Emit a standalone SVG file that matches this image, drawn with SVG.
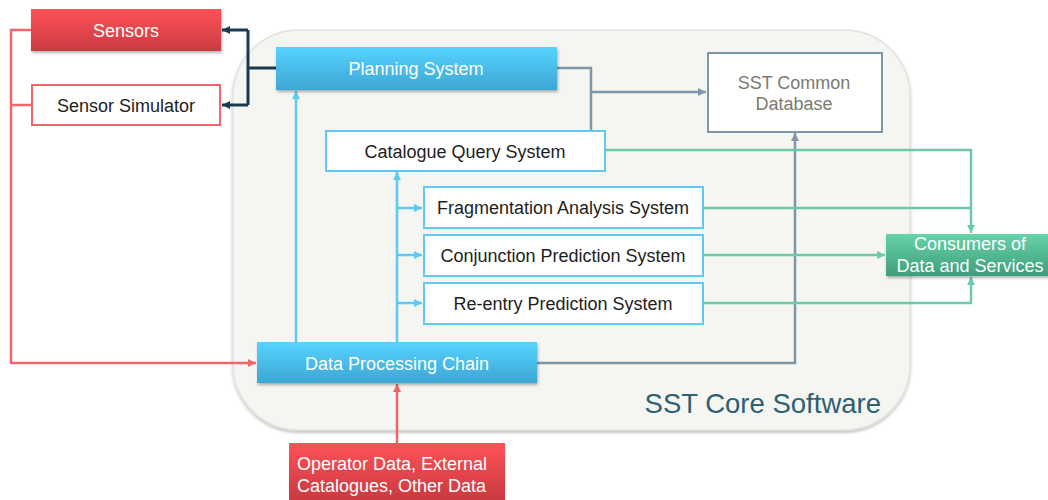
<svg xmlns="http://www.w3.org/2000/svg" width="1048" height="500" viewBox="0 0 1048 500">
<defs>
<linearGradient id="gRed" x1="0" y1="0" x2="0" y2="1"><stop offset="0" stop-color="#ff5258"/><stop offset="1" stop-color="#c93a40"/></linearGradient>
<linearGradient id="gBlue" x1="0" y1="0" x2="0" y2="1"><stop offset="0" stop-color="#56d3ff"/><stop offset="1" stop-color="#3da6d3"/></linearGradient>
<linearGradient id="gGreen" x1="0" y1="0" x2="0" y2="1"><stop offset="0" stop-color="#66d3aa"/><stop offset="1" stop-color="#3f9e7a"/></linearGradient>
<filter id="sh" x="-10%" y="-20%" width="120%" height="150%"><feDropShadow dx="1" dy="2" stdDeviation="1.5" flood-color="#000" flood-opacity="0.3"/></filter>
<filter id="shc" x="-5%" y="-5%" width="110%" height="110%"><feDropShadow dx="0" dy="2" stdDeviation="1.5" flood-color="#000" flood-opacity="0.25"/></filter>
<marker id="aNavy" viewBox="0 0 8 8" refX="8" refY="4" markerWidth="8" markerHeight="8" orient="auto" markerUnits="userSpaceOnUse"><path d="M0,0 L8,4 L0,8 z" fill="#1b3a52"/></marker>
<marker id="aRed" viewBox="0 0 8 8" refX="8" refY="4" markerWidth="8" markerHeight="8" orient="auto" markerUnits="userSpaceOnUse"><path d="M0,0 L8,4 L0,8 z" fill="#f0646a"/></marker>
<marker id="aBlue" viewBox="0 0 8 8" refX="8" refY="4" markerWidth="8" markerHeight="8" orient="auto" markerUnits="userSpaceOnUse"><path d="M0,0 L8,4 L0,8 z" fill="#5bcbf5"/></marker>
<marker id="aGray" viewBox="0 0 8 8" refX="8" refY="4" markerWidth="8" markerHeight="8" orient="auto" markerUnits="userSpaceOnUse"><path d="M0,0 L8,4 L0,8 z" fill="#7e96a8"/></marker>
<marker id="aGreen" viewBox="0 0 8 8" refX="8" refY="4" markerWidth="8" markerHeight="8" orient="auto" markerUnits="userSpaceOnUse"><path d="M0,0 L8,4 L0,8 z" fill="#6dcaa5"/></marker>
</defs>
<style>
text{font-family:"Liberation Sans",Arial,sans-serif;font-size:18px}
.c{text-anchor:middle}
.w{fill:#ffffff}
.d{fill:#1e1e1e}
.wb{fill:#ffffff;stroke:#5bcbf5;stroke-width:2}
.ln{fill:none}
.navy{stroke:#1b3a52;stroke-width:3}
.red{stroke:#f0646a;stroke-width:2.5}
.blue{stroke:#5bcbf5;stroke-width:2.5}
.gray{stroke:#7e96a8;stroke-width:2.5}
.green{stroke:#6dcaa5;stroke-width:2.5}
</style>
<rect width="1048" height="500" fill="#ffffff"/>
<g id="container">
<rect x="233" y="30" width="677" height="400" rx="66" ry="66" fill="#f5f6f1" stroke="#e2e2de" stroke-width="1.5" filter="url(#shc)"/>
<text x="881" y="413" text-anchor="end" style="font-size:27.5px" fill="#2e5f73">SST Core Software</text>
</g>
<g id="connectors">
<path class="ln navy" d="M276,68 H248 M248,30 V105"/>
<path class="ln navy" d="M248,30 H222" marker-end="url(#aNavy)"/>
<path class="ln navy" d="M248,105 H222" marker-end="url(#aNavy)"/>
<path class="ln red" d="M31,30 H11 V363 H256" marker-end="url(#aRed)"/>
<path class="ln red" d="M31,105 H11"/>
<path class="ln red" d="M397,443 V384" marker-end="url(#aRed)"/>
<path class="ln blue" d="M296,342 V91" marker-end="url(#aBlue)"/>
<path class="ln blue" d="M397,342 V172" marker-end="url(#aBlue)"/>
<path class="ln blue" d="M397,208 H422" marker-end="url(#aBlue)"/>
<path class="ln blue" d="M397,255 H422" marker-end="url(#aBlue)"/>
<path class="ln blue" d="M397,303 H422" marker-end="url(#aBlue)"/>
<path class="ln gray" d="M557,68 H591 V130"/>
<path class="ln gray" d="M591,92 H706" marker-end="url(#aGray)"/>
<path class="ln gray" d="M537,363 H795 V133" marker-end="url(#aGray)"/>
<path class="ln green" d="M605,150 H971 V233" marker-end="url(#aGreen)"/>
<path class="ln green" d="M703,208 H971"/>
<path class="ln green" d="M703,255 H885" marker-end="url(#aGreen)"/>
<path class="ln green" d="M703,303 H971 V277" marker-end="url(#aGreen)"/>
</g>
<g id="sensors">
<rect x="31" y="9" width="190" height="42" fill="url(#gRed)" filter="url(#sh)"/>
<text x="126" y="36.5" class="c w">Sensors</text>
</g>
<g id="sensor-simulator">
<rect x="32" y="85" width="188" height="40" fill="#ffffff" stroke="#f0646a" stroke-width="2"/>
<text x="126" y="111.5" class="c d">Sensor Simulator</text>
</g>
<g id="planning-system">
<rect x="276" y="47" width="281" height="43" fill="url(#gBlue)" filter="url(#sh)"/>
<text x="416" y="75" class="c w">Planning System</text>
</g>
<g id="sst-common-database">
<rect x="708" y="53" width="174" height="79" fill="#ffffff" stroke="#7e96a8" stroke-width="2"/>
<text x="794" y="89" class="c" fill="#7b7b6b">SST Common</text>
<text x="794" y="110" class="c" fill="#7b7b6b">Database</text>
</g>
<g id="catalogue-query-system">
<rect x="326" y="131" width="279" height="40" class="wb"/>
<text x="465" y="157.5" class="c d">Catalogue Query System</text>
</g>
<g id="fragmentation-analysis-system">
<rect x="424" y="187" width="279" height="41" class="wb"/>
<text x="563" y="214" class="c d">Fragmentation Analysis System</text>
</g>
<g id="conjunction-prediction-system">
<rect x="424" y="235" width="279" height="41" class="wb"/>
<text x="563" y="262" class="c d">Conjunction Prediction System</text>
</g>
<g id="re-entry-prediction-system">
<rect x="424" y="283" width="279" height="41" class="wb"/>
<text x="563" y="310" class="c d">Re-entry Prediction System</text>
</g>
<g id="data-processing-chain">
<rect x="257" y="342" width="280" height="41" fill="url(#gBlue)" filter="url(#sh)"/>
<text x="397" y="369.5" class="c w">Data Processing Chain</text>
</g>
<g id="consumers">
<rect x="886" y="234" width="162" height="42" fill="url(#gGreen)" filter="url(#sh)"/>
<text x="970" y="250" class="c w">Consumers of</text>
<text x="970" y="272" class="c w">Data and Services</text>
</g>
<g id="operator-data">
<rect x="289" y="443" width="216" height="57" fill="url(#gRed)"/>
<text x="297" y="469.5" class="w">Operator Data, External</text>
<text x="297" y="491.5" class="w">Catalogues, Other Data</text>
</g>
</svg>
